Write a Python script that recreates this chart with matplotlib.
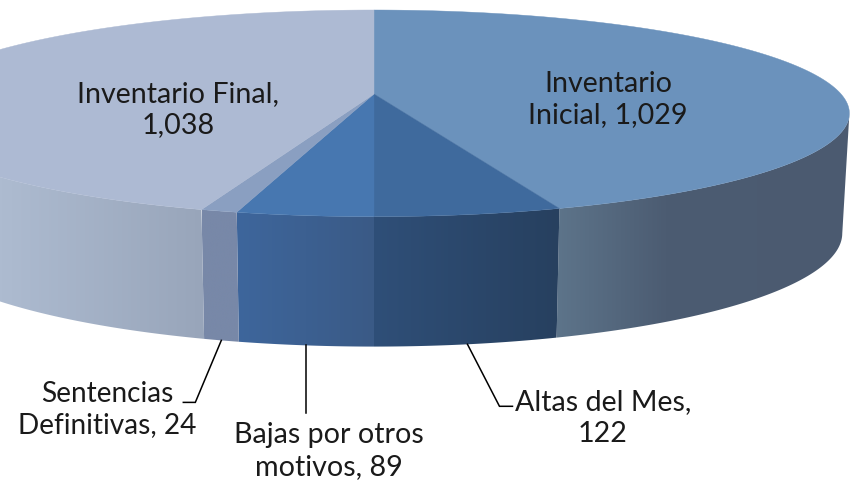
import numpy as np
import matplotlib
matplotlib.use("Agg")
import matplotlib.pyplot as plt
from matplotlib.colors import to_rgb
from matplotlib.patches import Polygon

# Data
categories = ["Inventario\nInicial", "Altas del Mes", "Bajas por otros\nmotivos", "Sentencias\nDefinitivas", "Inventario Final"]
values = [1029, 122, 89, 24, 1038]
value_labels = ["1,029", "122", "89", "24", "1,038"]

# Style: side gradients run left to right across each slice's visible rim
top_colors = ["#6b92bc", "#3f6a9d", "#4777b0", "#8a9fc1", "#adbad3"]
side_stops = [
    [(0.0, "#5d748a"), (0.37, "#4c5c72"), (1.0, "#4b5a70")],
    [(0.0, "#2f4f78"), (1.0, "#27405f")],
    [(0.0, "#3e669c"), (1.0, "#3a5a86")],
    [(0.0, "#7888a8"), (1.0, "#7888a8")],
    [(0.0, "#b2bfd4"), (0.34, "#adbbd0"), (1.0, "#98a5ba")],
]
label_pos = [(608, 99.5), (603, 418), (329, 451), (107, 409.5), (178, 109.5)]
label_size = [20.6, 20.6, 20.6, 20.2, 20.6]
FONT = "Lato"
LS = 1.25

# Projection geometry (pixels)
CX, CY = 374.0, 94.0
RX, RY, PERSP = 467.0, 99.7, 0.187
DEPTH0, DEPTH1, BOTTOM_X = 66.6, 51.5, 0.985


def project(theta):
    s = 1.0 / (1.0 + PERSP * np.cos(theta))
    return CX + RX * np.sin(theta) * s, CY - RY * np.cos(theta) * s, s


def rim_bottom(theta):
    x, y, s = project(theta)
    return CX + (x - CX) * BOTTOM_X, y + DEPTH0 + DEPTH1 * s


def gradient(stops, n=256):
    t = np.linspace(0, 1, n)
    ts = [p[0] for p in stops]
    rgb = np.array([to_rgb(p[1]) for p in stops])
    return np.stack([np.interp(t, ts, rgb[:, i]) for i in range(3)], axis=-1)[None, :, :]


fig = plt.figure(figsize=(8.58, 4.8), dpi=100, facecolor="white")
ax = fig.add_axes([0, 0, 1, 1])
ax.axis("off")

edges = np.concatenate([[0], np.cumsum(values)]) / np.sum(values) * 2 * np.pi

# Sides: a horizontal gradient clipped to the slice's rim outline,
# limited to the part of the rim in front of the widest point of the ellipse
for i in range(len(values)):
    th = np.linspace(edges[i], edges[i + 1], 600)
    th = th[np.cos(th) <= -PERSP]
    if th.size < 2:
        continue
    x, y, _ = project(th)
    bx, by = rim_bottom(th)
    pts = np.vstack([np.column_stack([x, y]), np.column_stack([bx, by])[::-1]])
    outline = Polygon(pts, closed=True, facecolor="none", edgecolor="none", transform=ax.transData)
    ax.add_patch(outline)
    im = ax.imshow(gradient(side_stops[i]), extent=(pts[:, 0].min(), pts[:, 0].max(), pts[:, 1].max(), pts[:, 1].min()),
                   aspect="auto", interpolation="bilinear", zorder=2)
    im.set_clip_path(outline)

ax.set_xlim(0, 858)
ax.set_ylim(480, 0)

# Top faces
for i in range(len(values)):
    th = np.linspace(edges[i], edges[i + 1], 300)
    x, y, _ = project(th)
    pts = np.vstack([[CX, CY], np.column_stack([x, y])])
    ax.add_patch(Polygon(pts, closed=True, facecolor=top_colors[i], edgecolor=top_colors[i], linewidth=0.3, zorder=3))

# Leader lines, anchored at each slice's mid angle on the lower rim
mids = (edges[:-1] + edges[1:]) / 2
leaders = {1: [(32, 62), (45, 62)], 2: [(0, 68)], 3: [(-26, 62), (-38, 62)]}
for i, offs in leaders.items():
    bx, by = rim_bottom(mids[i])
    xs = [bx] + [bx + o[0] for o in offs]
    ys = [by] + [by + o[1] for o in offs]
    ax.plot(xs, ys, color="black", lw=1.1, zorder=4, solid_joinstyle="miter")

# Labels
for i, (cat, val) in enumerate(zip(categories, value_labels)):
    text = f"{cat}, {val}"
    if i in (1, 4):
        text = f"{cat},\n{val}"
    ax.text(label_pos[i][0], label_pos[i][1], text, ha="center", va="center",
            fontsize=label_size[i], family=FONT, color="#1a1a1a", linespacing=LS, zorder=5)

fig.savefig("out.png", dpi=100, facecolor="white")
